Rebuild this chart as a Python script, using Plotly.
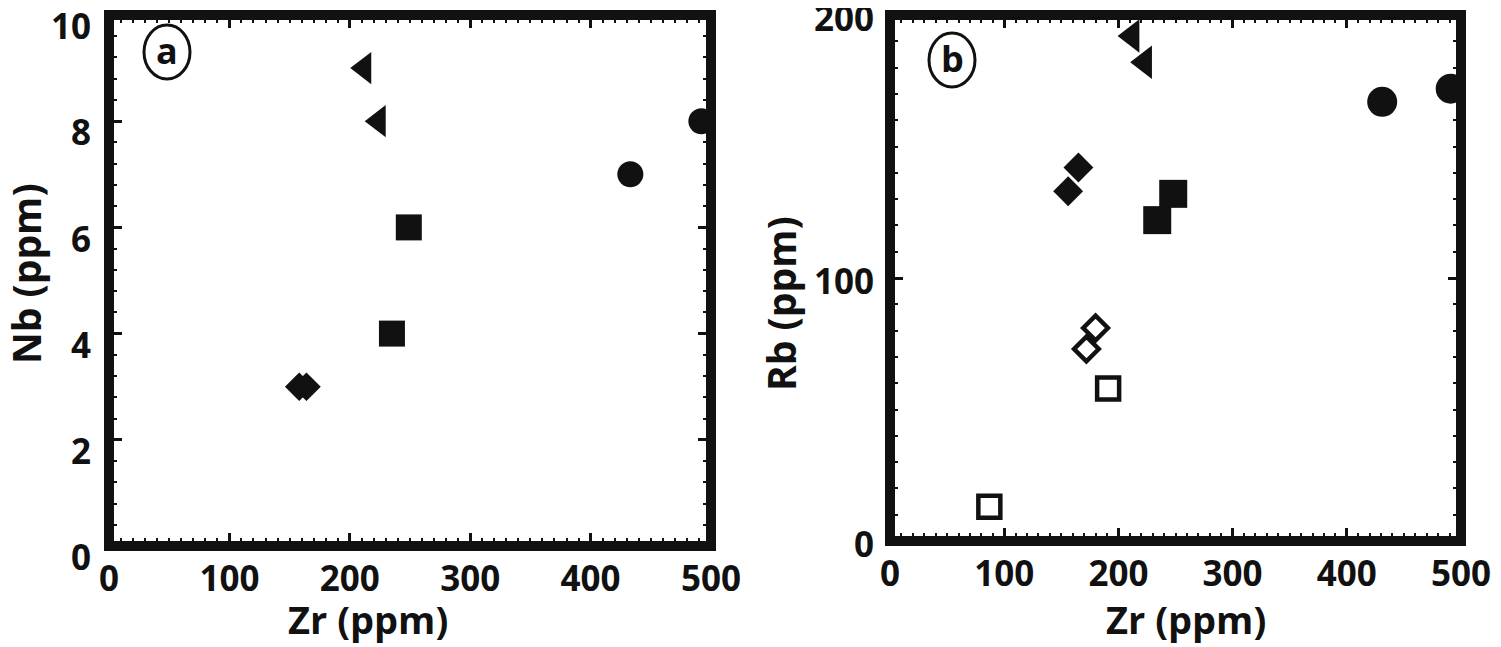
import plotly.graph_objects as go

# panel (a): Nb vs Zr
a_tri_x = [212, 224]
a_tri_y = [9.0, 8.0]
a_circ_x = [433, 492]
a_circ_y = [7.0, 8.0]
a_sq_x = [249, 235]
a_sq_y = [6.0, 4.0]
a_dia_x = [158, 164]
a_dia_y = [3.0, 3.0]

# panel (b): Rb vs Zr
b_tri_x = [212, 223]
b_tri_y = [192, 182]
b_circ_x = [431, 491]
b_circ_y = [167, 172]
b_dia_x = [165, 156]
b_dia_y = [142, 133]
b_sq_x = [248, 234]
b_sq_y = [132, 122]
b_odia_x = [180, 172]
b_odia_y = [81, 73]
b_osq_x = [191, 87]
b_osq_y = [58, 13]

x_ticks = [0, 100, 200, 300, 400, 500]
a_y_ticks = [0, 2, 4, 6, 8, 10]
b_y_ticks = [0, 100, 200]

FONT = "Open Sans"
INK = "#111111"
CLEAR = "rgba(0,0,0,0)"

# page body has an 8px margin, so work in screen pixels and shift
OFF = 8
W, H = 1501 - OFF, 647 - OFF
def fx(px):
    return (px - OFF) / W
def fy(py):
    return 1 - (py - OFF) / H

fig = go.Figure()

def pts(x, y, sym, size, xa, ya, lw=0):
    fig.add_trace(go.Scatter(
        x=x, y=y, mode="markers", xaxis=xa, yaxis=ya, showlegend=False,
        marker=dict(symbol=sym, size=size, color=INK,
                    line=dict(width=lw, color=INK))))

pts(a_tri_x, a_tri_y, "triangle-left", 28, "x", "y")
pts(a_circ_x, a_circ_y, "circle", 26, "x", "y")
pts(a_sq_x, a_sq_y, "square", 26, "x", "y")
pts(a_dia_x, a_dia_y, "diamond", 22, "x", "y")

pts(b_tri_x, b_tri_y, "triangle-left", 29, "x2", "y2")
pts(b_circ_x, b_circ_y, "circle", 30, "x2", "y2")
pts(b_dia_x, b_dia_y, "diamond", 23, "x2", "y2")
pts(b_sq_x, b_sq_y, "square", 28, "x2", "y2")
pts(b_odia_x, b_odia_y, "diamond-open", 19, "x2", "y2", lw=4.5)
pts(b_osq_x, b_osq_y, "square-open", 22, "x2", "y2", lw=4.5)

# empty traces so the label-only y axes get drawn (on hidden x axes)
for xa, ya in [("x3", "y3"), ("x4", "y4")]:
    fig.add_trace(go.Scatter(x=[], y=[], xaxis=xa, yaxis=ya, mode="markers",
                             showlegend=False, hoverinfo="skip"))

tick_font = dict(family=FONT, size=35, color=INK, weight="bold")

def ax(domain, rng, ticks, minor, standoff, labels=True):
    return dict(domain=domain, range=rng, tickvals=ticks, ticks="inside",
                ticklen=13, tickwidth=2.5, tickcolor=INK, automargin=False,
                showline=True, linewidth=1, linecolor=INK, mirror="allticks",
                showgrid=False, zeroline=False, fixedrange=True,
                showticklabels=labels,
                ticklabelstandoff=standoff, ticklabeloverflow="allow",
                minor=dict(dtick=minor, ticks="inside", ticklen=8, tickwidth=2,
                           tickcolor=INK, showgrid=False),
                tickfont=tick_font)

def label_axis(bottom, top, shift, rng, ticks, xpos, standoff):
    # label-only axis, nudged down a few pixels like the original figure
    return dict(domain=[fy(bottom + shift), fy(top + shift)], range=rng,
                tickvals=ticks, ticks="", showline=False, showgrid=False,
                zeroline=False, fixedrange=True, automargin=False,
                anchor="free", position=fx(xpos),
                ticklabelstandoff=standoff, ticklabeloverflow="allow",
                tickfont=tick_font)

def hidden_x(domain):
    return dict(domain=domain, range=[0, 1], visible=False, showgrid=False,
                zeroline=False, fixedrange=True, automargin=False)

fig.update_layout(
    width=W, height=H, margin=dict(l=0, r=0, t=0, b=0, autoexpand=False),
    paper_bgcolor="white", plot_bgcolor=CLEAR,
    xaxis=dict(ax([fx(109), fx(711)], [0, 500], x_ticks, 10, 2), anchor="y"),
    yaxis=dict(ax([fy(546), fy(15)], [0, 10], a_y_ticks, 0.4, 0, False), anchor="x"),
    xaxis2=dict(ax([fx(890), fx(1461)], [0, 500], x_ticks, 10, 2), anchor="y2"),
    yaxis2=dict(ax([fy(541), fy(15)], [0, 200], b_y_ticks, 10, 0, False), anchor="x2"),
    xaxis3=dict(hidden_x([fx(109), fx(711)]), anchor="y3"),
    xaxis4=dict(hidden_x([fx(890), fx(1461)]), anchor="y4"),
    yaxis3=label_axis(546, 15, 12, [0, 10], a_y_ticks, 109, 18),
    yaxis4=label_axis(541, 15, 4, [0, 200], b_y_ticks, 890, 16),
)

# thick frames
for xr, yr in [("x", "y"), ("x2", "y2")]:
    fig.add_shape(type="rect", xref=xr + " domain", yref=yr + " domain",
                  x0=0, x1=1, y0=0, y1=1, layer="above",
                  line=dict(color=INK, width=10))

# axis titles
for text, x, y, ang, size in [("Zr (ppm)", 368, 619, 0, 38), ("Nb (ppm)", 25, 274, -90, 39),
                              ("Zr (ppm)", 1186, 619, 0, 38), ("Rb (ppm)", 780, 304, -90, 39)]:
    fig.add_annotation(text=text, x=fx(x), y=fy(y), xref="paper", yref="paper",
                       xanchor="center", yanchor="middle",
                       showarrow=False, textangle=ang,
                       font=dict(family=FONT, size=size, color=INK, weight="bold"))

# circled panel letters
for letter, cx, cy in [("a", 167, 52), ("b", 952, 60)]:
    fig.add_shape(type="circle", xref="paper", yref="paper",
                  x0=fx(cx - 23), x1=fx(cx + 23),
                  y0=fy(cy + 27), y1=fy(cy - 27),
                  line=dict(color=INK, width=3))
    fig.add_annotation(text=letter, x=fx(cx), y=fy(cy - 2), xref="paper", yref="paper",
                       xanchor="center", yanchor="middle",
                       showarrow=False, font=dict(family=FONT, size=36, color=INK, weight="bold"))

fig.write_html("out.html")
